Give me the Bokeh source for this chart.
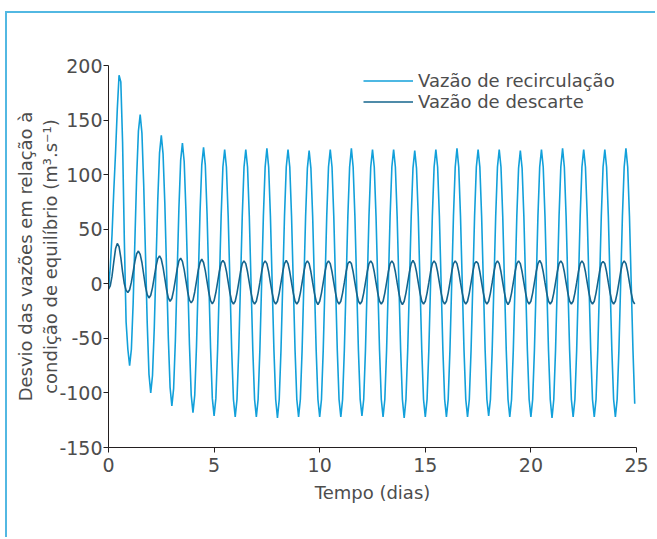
from bokeh.plotting import figure
from bokeh.models import Range1d, FixedTicker
from bokeh.embed import file_html
from bokeh.resources import INLINE

# ---------------- data ----------------
passo_horas = 2  # one value every 2 hours (12 per day)

# Vazão de recirculação (m3/s), one row = one day
recirculacao = [
    -5, 15, 45, 85, 120, 160, 191, 185, 130, 40, -35, -60,
    -75, -60, -18, 40, 98, 140, 155, 138, 91, 28, -36, -83,
    -100, -84, -41, 18, 77, 120, 136, 119, 74, 12, -50, -95,
    -112, -96, -52, 9, 69, 113, 129, 112, 67, 6, -56, -102,
    -118, -102, -57, 4, 65, 109, 125, 109, 64, 2, -59, -105,
    -121, -105, -60, 1, 62, 107, 123, 107, 62, 1, -61, -106,
    -122, -106, -61, 0, 62, 107, 123, 107, 62, 0, -61, -106,
    -122, -106, -61, 0, 62, 107, 124, 107, 62, 0, -61, -106,
    -123, -106, -61, 0, 62, 107, 123, 107, 62, 0, -61, -106,
    -122, -106, -61, 0, 62, 106, 122, 106, 62, 0, -61, -106,
    -122, -106, -61, 0, 62, 107, 123, 107, 62, 0, -61, -106,
    -122, -106, -61, 0, 62, 107, 124, 107, 62, 0, -61, -106,
    -121, -106, -61, 0, 62, 107, 123, 107, 62, 0, -61, -106,
    -122, -106, -61, 0, 62, 107, 123, 107, 62, 0, -61, -106,
    -123, -106, -61, 0, 62, 106, 122, 106, 62, 0, -61, -106,
    -122, -106, -61, 0, 62, 107, 123, 107, 62, 0, -61, -106,
    -122, -106, -61, 0, 62, 107, 124, 107, 62, 0, -61, -106,
    -122, -106, -61, 0, 62, 107, 123, 107, 62, 0, -61, -106,
    -121, -106, -61, 0, 62, 107, 123, 107, 62, 0, -61, -106,
    -122, -106, -61, 0, 62, 106, 122, 106, 62, 0, -61, -106,
    -122, -106, -61, 0, 62, 107, 123, 107, 62, 0, -61, -106,
    -123, -106, -61, 0, 62, 107, 124, 107, 62, 0, -61, -106,
    -122, -106, -61, 0, 62, 107, 123, 107, 62, 0, -61, -106,
    -122, -106, -61, 0, 62, 107, 123, 107, 62, 0, -61, -106,
    -122, -106, -61, 0, 62, 107, 124, 107, 62, 0, -61, -110,
]

# Vazão de descarte (m3/s), one row = one day
descarte = [
    -5, -2, 7, 20, 32, 37, 34, 24, 11, 0, -6, -8,
    -5.5, 1.5, 11, 20.5, 27.5, 30, 27, 19.5, 8.5, -2.5, -10, -13,
    -10.5, -3.5, 6, 16, 23, 25.5, 22.5, 15, 5, -5.5, -13, -16,
    -13.5, -6, 3.5, 13.5, 21, 23.5, 20.5, 13, 3, -7.5, -15, -17.5,
    -15, -7.5, 2.5, 12.5, 19.5, 22.5, 19.5, 12, 2, -8, -15.5, -18.5,
    -15.5, -8, 1.5, 11.5, 19, 21.5, 19, 11.5, 1.5, -8.5, -16, -18.5,
    -16, -8.5, 1, 11, 18.5, 21, 18.5, 11, 1, -8.5, -16, -18.5,
    -16, -8.5, 1, 11, 18.5, 21, 18.5, 11, 1, -8.5, -16, -18.5,
    -16, -8.5, 1, 11, 18.5, 21.5, 18.5, 11, 1, -8.5, -16, -18.5,
    -16, -8.5, 1, 11, 18.5, 21, 18.5, 11, 1, -8.5, -16, -19,
    -16, -8.5, 1, 11, 18.5, 21, 18.5, 11, 1, -8.5, -16, -18.5,
    -16, -8.5, 1, 11, 18.5, 20.5, 18.5, 11, 1, -8.5, -16, -18.5,
    -16, -8.5, 1, 11, 18.5, 21, 18.5, 11, 1, -8.5, -16, -18.5,
    -16, -8.5, 1, 11, 18.5, 21, 18.5, 11, 1, -8.5, -16, -19,
    -16, -8.5, 1, 11, 18.5, 21.5, 18.5, 11, 1, -8.5, -16, -18.5,
    -16, -8.5, 1, 11, 18.5, 21, 18.5, 11, 1, -8.5, -16, -18.5,
    -16, -8.5, 1, 11, 18.5, 21, 18.5, 11, 1, -8.5, -16, -18.5,
    -16, -8.5, 1, 11, 18.5, 20.5, 18.5, 11, 1, -8.5, -16, -18.5,
    -16, -8.5, 1, 11, 18.5, 21, 18.5, 11, 1, -8.5, -16, -19,
    -16, -8.5, 1, 11, 18.5, 21, 18.5, 11, 1, -8.5, -16, -18.5,
    -16, -8.5, 1, 11, 18.5, 21.5, 18.5, 11, 1, -8.5, -16, -18.5,
    -16, -8.5, 1, 11, 18.5, 21, 18.5, 11, 1, -8.5, -16, -18.5,
    -16, -8.5, 1, 11, 18.5, 21, 18.5, 11, 1, -8.5, -16, -18.5,
    -16, -8.5, 1, 11, 18.5, 20.5, 18.5, 11, 1, -8.5, -16, -18.5,
    -16, -8.5, 1, 11, 18.5, 21, 18.5, 11, 1, -8.5, -16, -18.5,
]

tempo = [i * passo_horas / 24 for i in range(len(recirculacao))]

x_ticks = [0, 5, 10, 15, 20, 25]
x_tick_labels = ["0", "5", "10", "15", "20", "25"]
y_ticks = [-150, -100, -50, 0, 50, 100, 150, 200]
y_tick_labels = ["-150", "-100", "-50", "0", "50", "100", "150", "200"]

serie_recirc = "Vazão de recirculação"
serie_desc = "Vazão de descarte"
x_label = "Tempo (dias)"
y_label = "Desvio das vazões em relação à\ncondição de equilíbrio (m³.s⁻¹)"

# ---------------- styling ----------------
FONT = "DejaVu Sans"
TXT = "#4d4d4d"
AX = "#231f20"
C_RECIRC = "#12a0da"
C_DESC = "#15648c"
C_FRAME = "#52b8e2"

p = figure(width=650, height=526, output_backend="svg", toolbar_location=None,
           x_range=Range1d(0, 25), y_range=Range1d(-150, 200),
           min_border_left=101, min_border_right=21,
           min_border_top=52, min_border_bottom=92,
           background_fill_color="white", border_fill_color="white")
p.styles = {"margin-left": "5px", "margin-top": "11px",
            "border-left": f"2px solid {C_FRAME}",
            "border-top": f"2px solid {C_FRAME}"}
p.outline_line_color = None
p.grid.visible = False

p.line(tempo, recirculacao, line_color=C_RECIRC, line_width=1.6,
       legend_label=serie_recirc)
p.line(tempo, descarte, line_color=C_DESC, line_width=1.6, legend_label=serie_desc)

p.xaxis.ticker = FixedTicker(ticks=x_ticks)
p.xaxis.major_label_overrides = dict(zip(x_ticks, x_tick_labels))
p.yaxis.ticker = FixedTicker(ticks=y_ticks)
p.yaxis.major_label_overrides = dict(zip(y_ticks, y_tick_labels))

for ax in (p.xaxis, p.yaxis):
    ax.axis_line_color = AX
    ax.axis_line_width = 1
    ax.major_tick_line_color = AX
    ax.major_tick_in = 0
    ax.major_tick_out = 5
    ax.minor_tick_line_color = None
    ax.major_label_text_font = FONT
    ax.major_label_text_font_size = "19px"
    ax.major_label_text_color = TXT
    ax.axis_label_text_font = FONT
    ax.axis_label_text_font_size = "18px"
    ax.axis_label_text_font_style = "normal"
    ax.axis_label_text_color = TXT
p.yaxis.major_label_standoff = 1
p.xaxis.major_label_standoff = 5

p.xaxis.axis_label = x_label
p.xaxis.axis_label_standoff = 7
p.yaxis.axis_label = y_label
p.yaxis.axis_label_standoff = -5

leg = p.legend[0]
leg.location = (255, 335)
leg.background_fill_alpha = 0
leg.border_line_color = None
leg.padding = 0
leg.margin = 0
leg.spacing = -2
leg.glyph_width = 50
leg.glyph_height = 19
leg.label_height = 19
leg.label_standoff = 5
leg.label_text_font = FONT
leg.label_text_font_size = "18px"
leg.label_text_color = TXT

open("out.html", "w").write(file_html(p, INLINE))
